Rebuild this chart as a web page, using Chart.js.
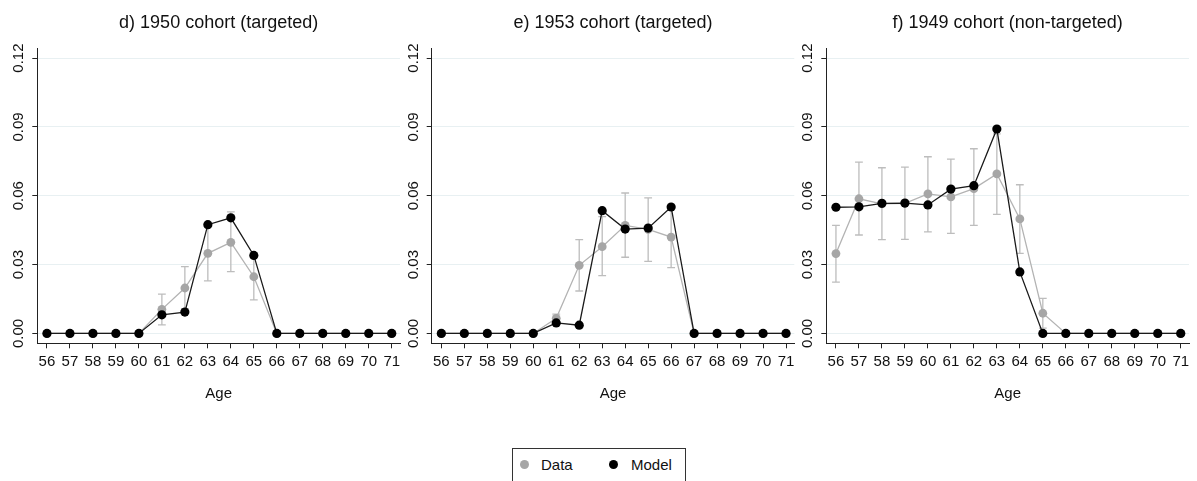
<!DOCTYPE html>
<html>
<head>
<meta charset="utf-8">
<script src="https://cdn.jsdelivr.net/npm/chart.js@4.4.1/dist/chart.umd.min.js"></script>
<style>
  html, body { margin: 0; padding: 0; background: #fff; width: 1197px; height: 481px; overflow: hidden;
    font-family: "Liberation Sans", Arial, sans-serif; }
  canvas.panel { position: absolute; top: 0; }
  #legend { position: absolute; left: 512px; top: 448px; width: 174px; height: 46px;
    border: 1px solid #333; box-sizing: border-box; background: #fff; }
  #legend .dot { position: absolute; width: 9px; height: 9px; border-radius: 50%; top: 11px; }
  #legend .lab { position: absolute; top: 7px; font-size: 15px; line-height: 18px; color: #111; }
</style>
</head>
<body>
<canvas id="c0" class="panel" width="410" height="481" style="left:0px"></canvas>
<canvas id="c1" class="panel" width="410" height="481" style="left:394px"></canvas>
<canvas id="c2" class="panel" width="410" height="481" style="left:789px"></canvas>
<div id="legend">
  <span class="dot" style="left:7px;background:#a6a6a6"></span><span class="lab" style="left:28px">Data</span>
  <span class="dot" style="left:96px;background:#000"></span><span class="lab" style="left:118px">Model</span>
</div>
<script>
// Ages on the horizontal axis and the value ticks on the vertical axis
const ages = [56, 57, 58, 59, 60, 61, 62, 63, 64, 65, 66, 67, 68, 69, 70, 71];
const yTicks = [0, 0.03, 0.06, 0.09, 0.12];

// d) 1950 cohort (targeted)
const dData  = [0, 0, 0, 0, 0, 0.0105, 0.0198, 0.0349, 0.0397, 0.0247, 0, 0, 0, 0, 0, 0];
const dLow   = [null, null, null, null, null, 0.0037, 0.0108, 0.0229, 0.0269, 0.0146, null, null, null, null, null, null];
const dHigh  = [null, null, null, null, null, 0.0171, 0.0291, 0.0469, 0.0530, 0.0350, null, null, null, null, null, null];
const dModel = [0, 0, 0, 0, 0, 0.0081, 0.0093, 0.0474, 0.0504, 0.0340, 0, 0, 0, 0, 0, 0];

// e) 1953 cohort (targeted)
const eData  = [0, 0, 0, 0, 0, 0.0066, 0.0297, 0.0378, 0.0471, 0.0454, 0.0420, 0, 0, 0, 0, 0];
const eLow   = [null, null, null, null, null, 0.0048, 0.0185, 0.0252, 0.0332, 0.0314, 0.0287, null, null, null, null, null];
const eHigh  = [null, null, null, null, null, 0.0084, 0.0409, 0.0509, 0.0612, 0.0591, 0.0553, null, null, null, null, null];
const eModel = [0, 0, 0, 0, 0, 0.0046, 0.0036, 0.0535, 0.0455, 0.0459, 0.0551, 0, 0, 0, 0, 0];

// f) 1949 cohort (non-targeted)
const fData  = [0.0348, 0.0587, 0.0565, 0.0567, 0.0608, 0.0595, 0.0631, 0.0695, 0.0499, 0.0088, 0, 0, 0, 0, 0, 0];
const fLow   = [0.0224, 0.0429, 0.0409, 0.0410, 0.0443, 0.0436, 0.0471, 0.0519, 0.0349, 0.0023, null, null, null, null, null, null];
const fHigh  = [0.0471, 0.0747, 0.0722, 0.0725, 0.0770, 0.0760, 0.0805, 0.0870, 0.0648, 0.0153, null, null, null, null, null, null];
const fModel = [0.0550, 0.0552, 0.0567, 0.0568, 0.0560, 0.0629, 0.0644, 0.0891, 0.0268, 0, 0, 0, 0, 0, 0, 0];

const titles = ['d) 1950 cohort (targeted)', 'e) 1953 cohort (targeted)', 'f) 1949 cohort (non-targeted)'];
const seriesData  = [dData, eData, fData];
const seriesLow   = [dLow, eLow, fLow];
const seriesHigh  = [dHigh, eHigh, fHigh];
const seriesModel = [dModel, eModel, fModel];

// Page geometry for each panel: canvas left edge, y-axis line and right end of the plot
const canvasLeft = [0, 394, 789];
const axisX = [37.3, 431.7, 826.3];
const plotRight = [400, 794.3, 1189];
const CANVAS_W = 410, CANVAS_H = 481, PLOT_BOTTOM = 343.3, Y_AXIS_W = 30, X_AXIS_H = 60;

const FONT = '"Liberation Sans", Arial, sans-serif';
const AXIS_COLOR = '#222';
const GRID_COLOR = 'rgb(232,240,242)';

// 95% interval caps drawn under the series lines
const errorBars = {
  id: 'errorBars',
  beforeDatasetsDraw(chart, args, opts) {
    const { ctx, scales: { x, y } } = chart;
    ctx.save();
    ctx.strokeStyle = opts.color;
    ctx.lineWidth = 1.3;
    opts.low.forEach((lo, i) => {
      const hi = opts.high[i];
      if (lo == null || hi == null) return;
      const px = x.getPixelForValue(ages[i]);
      const y1 = y.getPixelForValue(lo), y2 = y.getPixelForValue(hi);
      ctx.beginPath();
      ctx.moveTo(px, y1); ctx.lineTo(px, y2);
      ctx.moveTo(px - opts.cap, y1); ctx.lineTo(px + opts.cap, y1);
      ctx.moveTo(px - opts.cap, y2); ctx.lineTo(px + opts.cap, y2);
      ctx.stroke();
    });
    ctx.restore();
  }
};

// Vertical axis labels, turned to read upwards beside each tick
const rotatedYLabels = {
  id: 'rotatedYLabels',
  afterDraw(chart, args, opts) {
    const { ctx } = chart;
    const y = chart.scales.y;
    ctx.save();
    ctx.fillStyle = '#111';
    ctx.font = '15px ' + FONT;
    ctx.textAlign = 'center';
    ctx.textBaseline = 'middle';
    y.ticks.forEach(t => {
      ctx.save();
      ctx.translate(y.right - opts.offset, y.getPixelForValue(t.value));
      ctx.rotate(-Math.PI / 2);
      ctx.fillText(t.value.toFixed(2), 0, 0);
      ctx.restore();
    });
    ctx.restore();
  }
};

for (let p = 0; p < 3; p++) {
  const toPoints = arr => ages.map((a, i) => ({ x: a, y: arr[i] }));
  new Chart(document.getElementById('c' + p), {
    type: 'line',
    data: {
      datasets: [
        {
          label: 'Data',
          data: toPoints(seriesData[p]),
          order: 1,
          borderColor: '#b3b3b3',
          borderWidth: 1.3,
          pointRadius: 4.4,
          pointBorderWidth: 0,
          pointBackgroundColor: '#a6a6a6',
          pointBorderColor: '#a6a6a6',
          tension: 0
        },
        {
          label: 'Model',
          data: toPoints(seriesModel[p]),
          order: 0,
          borderColor: '#1a1a1a',
          borderWidth: 1.3,
          pointRadius: 4.6,
          pointBorderWidth: 0,
          pointBackgroundColor: '#000',
          pointBorderColor: '#000',
          tension: 0
        }
      ]
    },
    options: {
      responsive: false,
      animation: false,
      devicePixelRatio: 1,
      events: [],
      layout: {
        padding: {
          left: axisX[p] - canvasLeft[p] - Y_AXIS_W,
          right: CANVAS_W - (plotRight[p] - canvasLeft[p]),
          top: 0,
          bottom: CANVAS_H - PLOT_BOTTOM - X_AXIS_H
        }
      },
      scales: {
        x: {
          type: 'linear',
          min: 55.58,
          max: 71.36,
          afterBuildTicks: s => { s.ticks = ages.map(v => ({ value: v })); },
          afterFit: s => { s.height = X_AXIS_H; },
          ticks: {
            autoSkip: false,
            maxRotation: 0,
            padding: 5,
            color: '#111',
            font: { family: FONT, size: 15 },
            callback: v => String(v)
          },
          grid: { drawOnChartArea: false, drawTicks: true, tickLength: 5, tickColor: AXIS_COLOR, tickWidth: 1 },
          border: { display: true, color: AXIS_COLOR, width: 1 },
          title: { display: true, text: 'Age', color: '#111', font: { family: FONT, size: 15 }, padding: 0 }
        },
        y: {
          type: 'linear',
          min: -0.0043,
          max: 0.1244,
          afterBuildTicks: s => { s.ticks = yTicks.map(v => ({ value: v })); },
          afterFit: s => { s.width = Y_AXIS_W; },
          ticks: { display: false },
          grid: { color: GRID_COLOR, lineWidth: 1, drawTicks: true, tickLength: 5, tickColor: AXIS_COLOR, tickWidth: 1 },
          border: { display: true, color: AXIS_COLOR, width: 1 }
        }
      },
      plugins: {
        legend: { display: false },
        tooltip: { enabled: false },
        title: {
          display: true,
          fullSize: false,
          text: titles[p],
          color: '#111',
          font: { family: FONT, size: 18, weight: 'normal' },
          padding: { top: 12, bottom: 14.4 }
        },
        errorBars: { low: seriesLow[p], high: seriesHigh[p], color: '#bdbdbd', cap: 3.9 },
        rotatedYLabels: { offset: 18 }
      }
    },
    plugins: [errorBars, rotatedYLabels]
  });
}
</script>
</body>
</html>
